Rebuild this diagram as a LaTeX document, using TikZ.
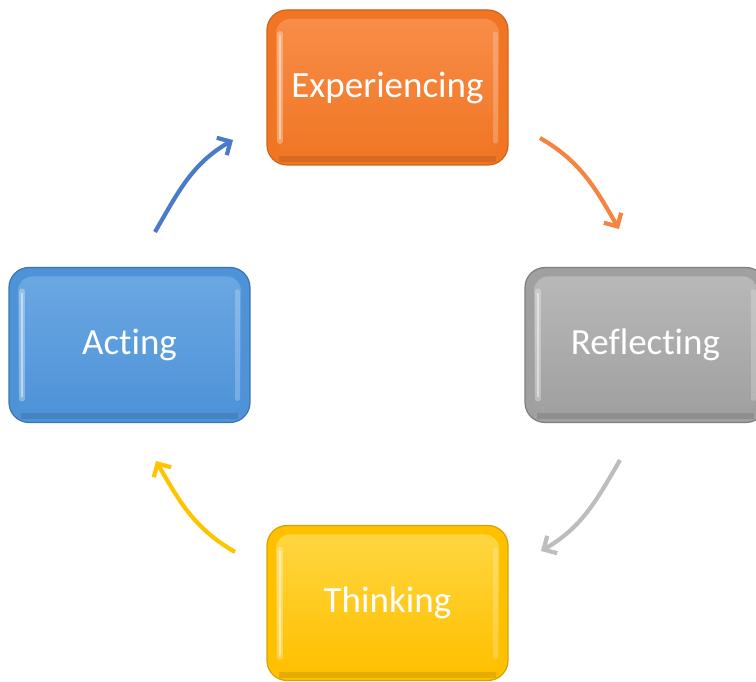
\documentclass[tikz,border=0pt]{standalone}
\usepackage{fontspec}
\setmainfont{Carlito}[Ligatures={NoCommon}]
\usetikzlibrary{arrows.meta}
\newcommand\nolig{\kern0pt{}}
\definecolor{oTop}{HTML}{F88D49}\definecolor{oBot}{HTML}{F07624}\definecolor{oEdge}{HTML}{D0631C}\definecolor{oArr}{HTML}{F4843F}
\definecolor{gTop}{HTML}{B8B8B8}\definecolor{gBot}{HTML}{A0A0A0}\definecolor{gEdge}{HTML}{7F7F7F}\definecolor{gArr}{HTML}{BDBDBD}
\definecolor{yTop}{HTML}{FFD640}\definecolor{yBot}{HTML}{FFC000}\definecolor{yEdge}{HTML}{D9A200}\definecolor{yArr}{HTML}{FFC400}
\definecolor{bTop}{HTML}{6AA7E2}\definecolor{bBot}{HTML}{4E93D8}\definecolor{bEdge}{HTML}{3B75AE}\definecolor{bArr}{HTML}{4A7BC8}
\begin{document}
\begin{tikzpicture}[x=1pt,y=1pt,
  box/.style n args={3}{minimum width=241pt, minimum height=155pt, inner sep=0pt,
    rounded corners=20pt, draw=#3, line width=1.2pt, text=white,
    font=\fontsize{37}{44}\selectfont,
    path picture={
      \fill[#2] (path picture bounding box.south west) rectangle (path picture bounding box.north east);
      \shade[top color=#1, bottom color=#2, rounded corners=14pt]
        ([shift={(9,-9)}]path picture bounding box.north west) rectangle ([shift={(-9,9)}]path picture bounding box.south east);
      \draw[white, opacity=0.30, line width=6pt, line cap=round]
        ([shift={(13,-24)}]path picture bounding box.north west) -- ([shift={(13,24)}]path picture bounding box.south west);
      \draw[white, opacity=0.45, line width=2pt, line cap=round]
        ([shift={(13,-26)}]path picture bounding box.north west) -- ([shift={(13,26)}]path picture bounding box.south west);
      \draw[white, opacity=0.22, line width=5pt, line cap=round]
        ([shift={(-13,-24)}]path picture bounding box.north east) -- ([shift={(-13,24)}]path picture bounding box.south east);
      \draw[black, opacity=0.10, line width=6pt]
        ([shift={(12,6)}]path picture bounding box.south west) -- ([shift={(-12,6)}]path picture bounding box.south east);
    }},
  arr/.style={line width=4.2pt, -{Straight Barb[length=10pt,width=20pt,line width=4.2pt]}}]
\useasboundingbox (0,0) rectangle (756,681);
\clip (0,0) rectangle (756,681);
\node[box={oTop}{oBot}{oEdge}] (exp) at (387.5,593.5) {Experiencing};
\node[box={gTop}{gBot}{gEdge}] (ref) at (645.5,336) {Ref\nolig lect\nolig ing};
\node[box={yTop}{yBot}{yEdge}] (thi) at (387.5,78) {Thinking};
\node[box={bTop}{bBot}{bEdge}] (act) at (129.5,336) {Act\nolig ing};
\coordinate (o1) at (540,543); \coordinate (o2) at (619,452);
\coordinate (g1) at (620,221); \coordinate (g2) at (541,130);
\coordinate (y1) at (235,129); \coordinate (y2) at (156,220);
\coordinate (b1) at (155,449); \coordinate (b2) at (233,541);
\draw[arr, oArr] (o1) to[out=-30, in=120] (o2);
\draw[arr, gArr] (g1) to[out=-120, in=30] (g2);
\draw[arr, yArr] (y1) to[out=150, in=-60] (y2);
\draw[arr, bArr] (b1) to[out=60, in=-150] (b2);
\end{tikzpicture}
\end{document}
